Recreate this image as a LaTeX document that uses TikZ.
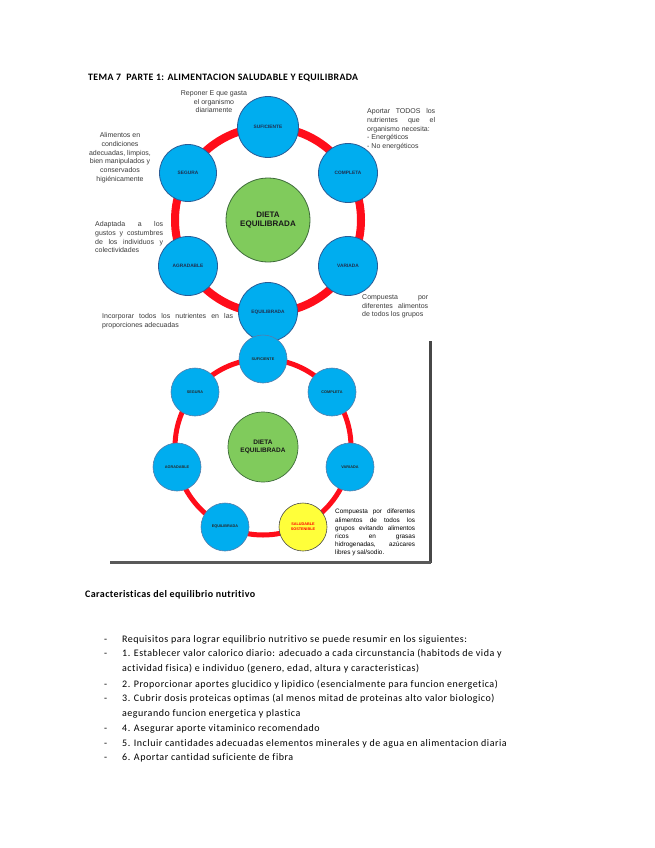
\documentclass[tikz,border=0pt]{standalone}
\usepackage{fontspec}
\setmainfont{Carlito}
\newfontfamily\arialf{Liberation Sans}
\newfontfamily\spacedfont[LetterSpace=5,Ligatures=NoCommon]{Carlito}
\newfontfamily\titlefont[LetterSpace=4,Ligatures=NoCommon]{Carlito}
\definecolor{ringred}{HTML}{FF0D1A}
\definecolor{cblue}{HTML}{00ADEF}
\definecolor{cblueline}{HTML}{2A5C96}
\definecolor{cgreen}{HTML}{80CB5C}
\definecolor{cgreenline}{HTML}{3E6B3A}
\definecolor{cyellow}{HTML}{FFFF3A}
\definecolor{annot}{HTML}{3A3A3A}
\definecolor{lbl}{HTML}{1F2F50}
\newcommand{\jst}[2]{\makebox[#1][s]{#2}}
\begin{document}
\begin{tikzpicture}[x=1pt,y=-1pt,
  bluenode/.style={circle, fill=cblue, draw=cblueline, line width=0.8pt, minimum size=59pt, inner sep=0pt, text=lbl, font=\arialf\bfseries\fontsize{4.8}{6}\selectfont},
  centernode/.style={circle, fill=cgreen, draw=cgreenline, line width=0.8pt, minimum size=84pt, inner sep=0pt, align=center, text=black!90, font=\arialf\bfseries\fontsize{8}{9}\selectfont},
  smallblue/.style={circle, fill=cblue, draw=cblueline!80, line width=0.6pt, minimum size=48pt, inner sep=0pt, text=black!85, font=\arialf\bfseries\fontsize{3.8}{4.6}\selectfont},
  smallcenter/.style={circle, fill=cgreen, draw=cgreenline, line width=0.7pt, minimum size=70pt, inner sep=0pt, align=center, text=black!90, font=\arialf\bfseries\fontsize{6.5}{8.5}\selectfont},
  yellownode/.style={circle, fill=cyellow, draw=black!70, line width=0.6pt, minimum size=48pt, inner sep=0pt, align=center, text=red, font=\arialf\bfseries\fontsize{3.8}{5}\selectfont},
  ringA/.style={draw=ringred, line width=8pt},
  ringB/.style={draw=ringred, line width=5pt},
  note/.style={inner sep=0pt, text=annot, font=\arialf\fontsize{7}{8.7}\selectfont},
  note2/.style={inner sep=0pt, text=black, font=\arialf\fontsize{6.4}{8.2}\selectfont},
  heading/.style={inner sep=0pt, anchor=base west, font=\titlefont\bfseries\fontsize{9.8}{11}\selectfont},
  bodytext/.style={inner sep=0pt, anchor=base west, font=\spacedfont\fontsize{10}{11}\selectfont},
  dashmark/.style={inner sep=0pt, anchor=base west, font=\fontsize{10}{11}\selectfont}
]
\useasboundingbox (0,0) rectangle (655,848);
\fill[white] (0,0) rectangle (655,848);

% Title
\node[heading] (title) at (88,81) {TEMA 7\ \ PARTE 1: ALIMENTACION SALUDABLE Y EQUILIBRADA};

% ---------- first diagram ----------
\coordinate (cA) at (268,220);
\draw[ringA] (cA) circle (93);
\node[centernode] (dietaA) at (cA) {DIETA\\EQUILIBRADA};
\node[bluenode, minimum size=61pt] (sufA) at (268,127) {SUFICIENTE};
\node[bluenode, minimum size=57pt] (segA) at (188,173) {SEGURA};
\node[bluenode] (comA) at (348,173) {COMPLETA};
\node[bluenode] (agrA) at (188,266) {AGRADABLE};
\node[bluenode] (varA) at (348,266) {VARIADA};
\node[bluenode] (equA) at (268,312) {EQUILIBRADA};

\node[note, align=center, anchor=north] (nSuf) at (214,90.5) {Reponer E que gasta\\el organismo\\diariamente};
\node[note, align=left, anchor=north west] (nCom) at (367,108.5) {\jst{68pt}{Aportar TODOS los}\\\jst{68pt}{nutrientes que el}\\organismo necesita:\\- Energéticos\\- No energéticos};
\node[note, align=center, anchor=north] (nSeg) at (120,132.5) {Alimentos en\\condiciones\\adecuadas, limpios,\\bien manipulados y\\conservados\\higiénicamente};
\node[note, align=left, anchor=north west] (nAgr) at (95,221.5) {\jst{68pt}{Adaptada a los}\\\jst{68pt}{gustos y costumbres}\\\jst{68pt}{de los individuos y}\\colectividades};
\node[note, align=left, anchor=north west] (nVar) at (362,294.5) {\jst{66pt}{Compuesta por}\\\jst{66pt}{diferentes alimentos}\\de todos los grupos};
\node[note, align=left, anchor=north west] (nEqu) at (102,313.5) {\jst{131pt}{Incorporar todos los nutrientes en las}\\proporciones adecuadas};

% ---------- second diagram ----------
\coordinate (cB) at (263,447);
\draw[ringB] (cB) circle (88);
\node[smallcenter] (dietaB) at (cB) {DIETA\\EQUILIBRADA};
\node[smallblue] (sufB) at (263,359) {SUFICIENTE};
\node[smallblue] (segB) at (195,392) {SEGURA};
\node[smallblue] (comB) at (332,392) {COMPLETA};
\node[smallblue] (agrB) at (177,467) {AGRADABLE};
\node[smallblue] (varB) at (350,467) {VARIADA};
\node[smallblue] (equB) at (225,527) {EQUILIBRADA};
\node[yellownode] (salB) at (303,527) {SALUDABLE\\SOSTENIBLE};

\node[note2, align=left, anchor=north west] (nSal) at (335,509) {\jst{80pt}{Compuesta por diferentes}\\\jst{80pt}{alimentos de todos los}\\\jst{80pt}{grupos evitando alimentos}\\\jst{80pt}{ricos en grasas}\\\jst{80pt}{hidrogenadas, azúcares}\\libres y sal/sodio.};

% frame of the second picture
\coordinate (frTop) at (430.5,341);
\coordinate (frCorner) at (430.5,562.5);
\coordinate (frLeft) at (110,562.5);
\draw[black!72, line width=3.5pt] (frTop) -- (frCorner);
\draw[black!65, line width=3pt] (frLeft) -- (frCorner);

% ---------- text below ----------
\node[heading, font=\titlefont\bfseries\fontsize{10}{11}\selectfont] (carac) at (85,597) {Caracteristicas del equilibrio nutritivo};

\node[dashmark] (d0) at (104,642) {-};
\node[bodytext] (t0) at (122,642) {Requisitos para lograr equilibrio nutritivo se puede resumir en los siguientes:};
\node[dashmark] (d1) at (104,656) {-};
\node[bodytext] (t1) at (122,656) {1. Establecer valor calorico diario: adecuado a cada circunstancia (habitods de vida y};
\node[bodytext] (t1b) at (122,671) {actividad fisica) e individuo (genero, edad, altura y caracteristicas)};
\node[dashmark] (d2) at (104,687) {-};
\node[bodytext] (t2) at (122,687) {2. Proporcionar aportes glucidico y lipidico (esencialmente para funcion energetica)};
\node[dashmark] (d3) at (104,701) {-};
\node[bodytext] (t3) at (122,701) {3. Cubrir dosis proteicas optimas (al menos mitad de proteinas alto valor biologico)};
\node[bodytext] (t3b) at (122,716) {aegurando funcion energetica y plastica};
\node[dashmark] (d4) at (104,731) {-};
\node[bodytext] (t4) at (122,731) {4. Asegurar aporte vitaminico recomendado};
\node[dashmark] (d5) at (104,746) {-};
\node[bodytext] (t5) at (122,746) {5. Incluir cantidades adecuadas elementos minerales y de agua en alimentacion diaria};
\node[dashmark] (d6) at (104,760) {-};
\node[bodytext] (t6) at (122,760) {6. Aportar cantidad suficiente de fibra};
\end{tikzpicture}
\end{document}
